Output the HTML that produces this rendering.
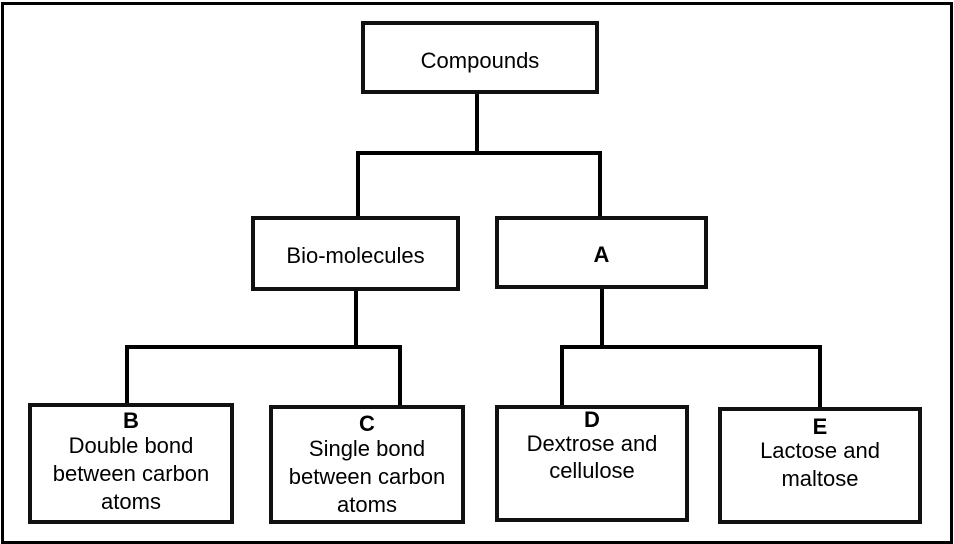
<!DOCTYPE html>
<html><head><meta charset="utf-8"><style>
html,body{margin:0;padding:0;background:#fff;}
body{width:954px;height:544px;position:relative;overflow:hidden;font-family:"Liberation Sans",Arial,sans-serif;color:#000;}
.frame{position:absolute;left:1px;top:2px;width:946px;height:536px;border:3px solid #000;}
.box{position:absolute;border:4px solid #111;box-sizing:border-box;background:#fff;text-align:center;font-size:22px;line-height:27px;}
.ln{position:absolute;background:#000;}
.lbl{font-weight:bold;}
</style></head><body>
<div class="frame"></div>

<div class="ln" style="left:475px;top:92px;width:4px;height:62px"></div>
<div class="ln" style="left:356px;top:151px;width:246px;height:4px"></div>
<div class="ln" style="left:356px;top:151px;width:4px;height:67px"></div>
<div class="ln" style="left:598px;top:151px;width:4px;height:67px"></div>

<div class="ln" style="left:354px;top:288px;width:4px;height:60px"></div>
<div class="ln" style="left:125px;top:345px;width:277px;height:4px"></div>
<div class="ln" style="left:125px;top:345px;width:4px;height:60px"></div>
<div class="ln" style="left:398px;top:345px;width:4px;height:62px"></div>

<div class="ln" style="left:600px;top:286px;width:4px;height:62px"></div>
<div class="ln" style="left:560px;top:345px;width:262px;height:4px"></div>
<div class="ln" style="left:560px;top:345px;width:4px;height:62px"></div>
<div class="ln" style="left:818px;top:345px;width:4px;height:64px"></div>

<div class="box" style="left:361px;top:21px;width:238px;height:73px;padding-top:22px">Compounds</div>
<div class="box" style="left:251px;top:216px;width:209px;height:75px;padding-top:22px">Bio-molecules</div>
<div class="box" style="left:495px;top:216px;width:213px;height:73px;padding-top:21px"><span class="lbl">A</span></div>

<div class="box" style="left:28px;top:403px;width:206px;height:121px;padding-top:3px;line-height:28px"><span class="lbl" style="display:block;line-height:22px">B</span>Double bond<br>between carbon<br>atoms</div>
<div class="box" style="left:269px;top:405px;width:196px;height:119px;padding-top:4px;line-height:28px"><span class="lbl" style="display:block;line-height:22px">C</span>Single bond<br>between carbon<br>atoms</div>
<div class="box" style="left:495px;top:405px;width:194px;height:117px;padding-top:1px;line-height:27px"><span class="lbl" style="display:block;line-height:20px">D</span>Dextrose and<br>cellulose</div>
<div class="box" style="left:718px;top:407px;width:204px;height:117px;padding-top:6px;line-height:28px"><span class="lbl" style="display:block;line-height:20px">E</span>Lactose and<br>maltose</div>
</body></html>
